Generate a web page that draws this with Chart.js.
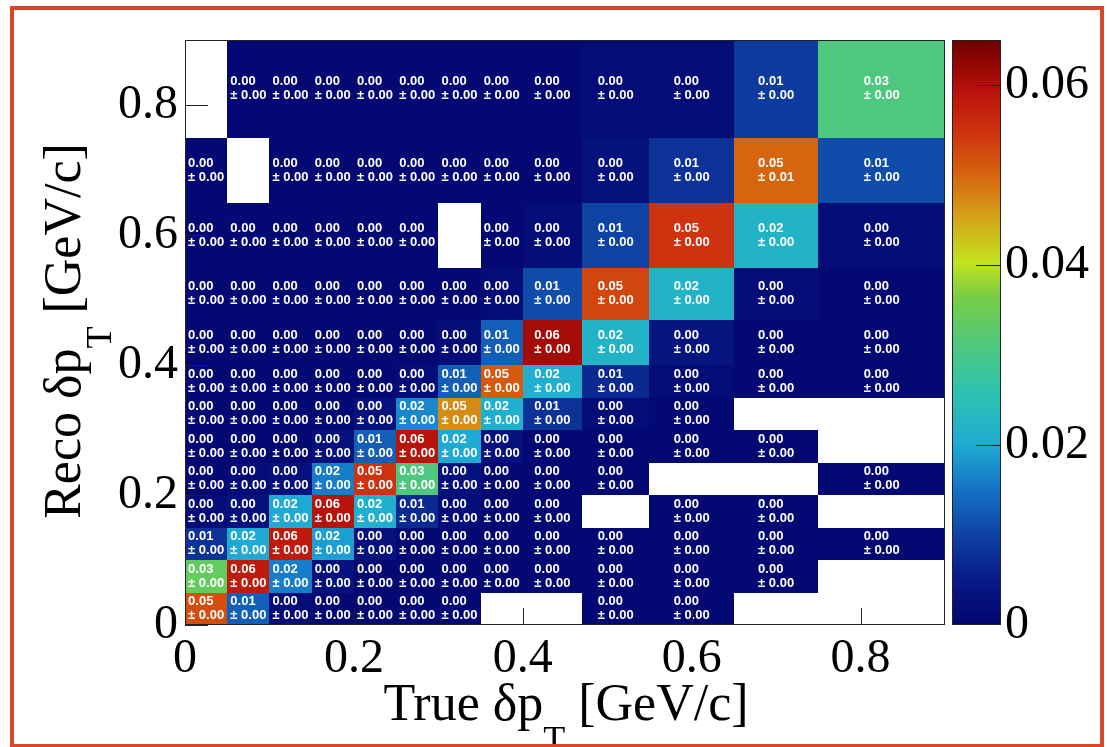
<!DOCTYPE html>
<html>
<head>
<meta charset="utf-8">
<script src="https://cdn.jsdelivr.net/npm/chart.js@4.4.0/dist/chart.umd.min.js"></script>
<style>
  html, body { margin: 0; padding: 0; background: #fff; }
  canvas { display: block; }
</style>
</head>
<body>
<canvas id="migration" width="1107" height="747"></canvas>
<script>
// Bin edges in GeV/c (same binning for true and reco dpT)
const binEdges = [0, 0.05, 0.1, 0.15, 0.2, 0.25, 0.3, 0.35, 0.4, 0.47, 0.55, 0.65, 0.75, 0.9];

// Cell content, one array per reco bin (bottom row first), one entry per true bin. null = empty bin
const reco00 = [0.052, 0.013, 0.002, 0.001, 0.001, 0.001, 0.001, null, null, 0.001, 0.001, null, null];
const reco01 = [0.034, 0.058, 0.016, 0.003, 0.001, 0.001, 0.001, 0.001, 0.001, 0.001, 0.001, 0.001, null];
const reco02 = [0.008, 0.020, 0.058, 0.019, 0.003, 0.001, 0.001, 0.001, 0.001, 0.001, 0.001, 0.001, 0.001];
const reco03 = [0.002, 0.003, 0.020, 0.059, 0.021, 0.007, 0.002, 0.001, 0.001, null, 0.001, 0.001, null];
const reco04 = [0.001, 0.002, 0.003, 0.016, 0.0548, 0.031, 0.003, 0.001, 0.001, 0.001, null, null, 0.001];
const reco05 = [0.001, 0.001, 0.001, 0.003, 0.013, 0.059, 0.020, 0.003, 0.001, 0.001, 0.001, 0.001, null];
const reco06 = [0.001, 0.001, 0.001, 0.001, 0.003, 0.017, 0.047, 0.021, 0.008, 0.002, 0.001, null, null];
const reco07 = [0.001, 0.001, 0.001, 0.001, 0.001, 0.002, 0.013, 0.051, 0.021, 0.007, 0.002, 0.001, 0.001];
const reco08 = [0.001, 0.001, 0.001, 0.001, 0.001, 0.001, 0.002, 0.013, 0.061, 0.022, 0.004, 0.001, 0.001];
const reco09 = [0.001, 0.001, 0.001, 0.001, 0.001, 0.001, 0.001, 0.002, 0.011, 0.053, 0.022, 0.002, 0.001];
const reco10 = [0.001, 0.001, 0.001, 0.001, 0.001, 0.001, null, 0.001, 0.002, 0.010, 0.0548, 0.022, 0.002];
const reco11 = [0.001, null, 0.001, 0.001, 0.001, 0.001, 0.001, 0.001, 0.001, 0.003, 0.008, 0.050, 0.011];
const reco12 = [null, 0.001, 0.001, 0.001, 0.001, 0.001, 0.001, 0.001, 0.001, 0.002, 0.002, 0.009, 0.031];

// Statistical errors, same layout
const err00 = [0.003, 0.002, 0.001, 0.001, 0.001, 0.001, 0.001, null, null, 0.001, 0.001, null, null];
const err01 = [0.002, 0.003, 0.002, 0.001, 0.001, 0.001, 0.001, 0.001, 0.001, 0.001, 0.001, 0.001, null];
const err02 = [0.001, 0.002, 0.003, 0.002, 0.001, 0.001, 0.001, 0.001, 0.001, 0.001, 0.001, 0.001, 0.001];
const err03 = [0.001, 0.001, 0.002, 0.003, 0.002, 0.001, 0.001, 0.001, 0.001, null, 0.001, 0.001, null];
const err04 = [0.001, 0.001, 0.001, 0.002, 0.003, 0.002, 0.001, 0.001, 0.001, 0.001, null, null, 0.001];
const err05 = [0.001, 0.001, 0.001, 0.001, 0.002, 0.003, 0.002, 0.001, 0.001, 0.001, 0.001, 0.001, null];
const err06 = [0.001, 0.001, 0.001, 0.001, 0.001, 0.002, 0.003, 0.002, 0.001, 0.001, 0.001, null, null];
const err07 = [0.001, 0.001, 0.001, 0.001, 0.001, 0.001, 0.002, 0.003, 0.002, 0.001, 0.001, 0.001, 0.001];
const err08 = [0.001, 0.001, 0.001, 0.001, 0.001, 0.001, 0.001, 0.002, 0.004, 0.002, 0.001, 0.001, 0.001];
const err09 = [0.001, 0.001, 0.001, 0.001, 0.001, 0.001, 0.001, 0.001, 0.002, 0.004, 0.003, 0.001, 0.001];
const err10 = [0.001, 0.001, 0.001, 0.001, 0.001, 0.001, null, 0.001, 0.001, 0.002, 0.004, 0.003, 0.001];
const err11 = [0.001, null, 0.001, 0.001, 0.001, 0.001, 0.001, 0.001, 0.001, 0.001, 0.002, 0.006, 0.002];
const err12 = [null, 0.001, 0.001, 0.001, 0.001, 0.001, 0.001, 0.001, 0.001, 0.001, 0.001, 0.002, 0.003];

const axisTicks = [0, 0.2, 0.4, 0.6, 0.8];
const zTicks = [0, 0.02, 0.04, 0.06];
const zMax = 0.065;

const recoRows = [reco00, reco01, reco02, reco03, reco04, reco05, reco06, reco07, reco08, reco09, reco10, reco11, reco12];
const errRows = [err00, err01, err02, err03, err04, err05, err06, err07, err08, err09, err10, err11, err12];

// rainbow palette (fraction of zMax -> rgb)
const palette = [
  [0.00, [2, 4, 110]],
  [0.08, [8, 26, 135]],
  [0.16, [15, 70, 165]],
  [0.24, [22, 120, 200]],
  [0.31, [30, 172, 210]],
  [0.40, [45, 195, 175]],
  [0.48, [80, 200, 125]],
  [0.56, [120, 205, 70]],
  [0.62, [195, 226, 30]],
  [0.70, [212, 160, 25]],
  [0.77, [215, 100, 15]],
  [0.85, [205, 45, 15]],
  [0.92, [180, 15, 10]],
  [1.00, [110, 0, 0]]
];

function zColor(v) {
  let t = Math.max(0, Math.min(1, v / zMax));
  for (let i = 1; i < palette.length; i++) {
    if (t <= palette[i][0]) {
      const [t0, c0] = palette[i - 1];
      const [t1, c1] = palette[i];
      const f = (t - t0) / (t1 - t0);
      const c = c0.map((a, k) => Math.round(a + (c1[k] - a) * f));
      return `rgb(${c[0]},${c[1]},${c[2]})`;
    }
  }
  return 'rgb(110,0,0)';
}

function fmtTick(v) {
  if (Math.abs(v) < 1e-9) return '0';
  return String(+v.toFixed(2));
}

// cell centres as data points (the cells themselves are painted by the plugin below)
const cellPoints = [];
recoRows.forEach((row, i) => {
  row.forEach((v, j) => {
    if (v === null) return;
    cellPoints.push({ x: (binEdges[j] + binEdges[j + 1]) / 2, y: (binEdges[i] + binEdges[i + 1]) / 2, v: v, e: errRows[i][j], i: i, j: j });
  });
});

const serif = '"Liberation Serif", "Times New Roman", serif';

const th2Plugin = {
  id: 'th2Cells',
  beforeDatasetsDraw(chart) {
    const { ctx, scales: { x, y } } = chart;
    ctx.save();
    // cells
    cellPoints.forEach(p => {
      const x0 = Math.round(x.getPixelForValue(binEdges[p.j]));
      const x1 = Math.round(x.getPixelForValue(binEdges[p.j + 1]));
      const y0 = Math.round(y.getPixelForValue(binEdges[p.i + 1]));
      const y1 = Math.round(y.getPixelForValue(binEdges[p.i]));
      ctx.fillStyle = zColor(p.v);
      ctx.fillRect(x0, y0, x1 - x0, y1 - y0);
    });
    // cell text
    ctx.font = 'bold 13px "Liberation Sans", Arial, sans-serif';
    ctx.fillStyle = '#ffffff';
    ctx.textAlign = 'left';
    ctx.textBaseline = 'middle';
    cellPoints.forEach(p => {
      const cx = x.getPixelForValue(p.x);
      const cy = y.getPixelForValue(p.y);
      const l1 = p.v.toFixed(2);
      const l2 = '\u00b1 ' + p.e.toFixed(2);
      const w = ctx.measureText(l2).width;
      const lx = cx - w / 2;
      ctx.fillText(l1, lx, cy - 7);
      ctx.fillText(l2, lx, cy + 7);
    });
    ctx.restore();
  },
  afterDraw(chart) {
    const { ctx, chartArea: a, scales: { x, y, z } } = chart;
    ctx.save();
    // frame
    ctx.strokeStyle = '#222';
    ctx.lineWidth = 1;
    ctx.strokeRect(a.left + 0.5, a.top + 0.5, a.right - a.left - 1, a.bottom - a.top - 1);
    // inward ticks
    ctx.beginPath();
    axisTicks.forEach(t => {
      const px = Math.round(x.getPixelForValue(t)) + 0.5;
      ctx.moveTo(px, a.bottom);
      ctx.lineTo(px, a.bottom - 17);
      const py = Math.round(y.getPixelForValue(t)) + 0.5;
      ctx.moveTo(a.left, py);
      ctx.lineTo(a.left + 23, py);
    });
    ctx.stroke();

    // colour bar
    const bl = a.right + 7, br = a.right + 56;
    for (let py = Math.round(z.top); py < Math.round(z.bottom); py++) {
      ctx.fillStyle = zColor(z.getValueForPixel(py + 0.5));
      ctx.fillRect(bl, py, br - bl, 1);
    }
    ctx.strokeStyle = '#222';
    ctx.strokeRect(bl + 0.5, z.top + 0.5, br - bl - 1, z.bottom - z.top - 1);
    ctx.beginPath();
    zTicks.forEach(t => {
      if (t === 0) return;
      const py = Math.round(z.getPixelForValue(t)) + 0.5;
      ctx.moveTo(br - 25, py);
      ctx.lineTo(br, py);
    });
    ctx.stroke();

    // axis titles with subscript
    ctx.fillStyle = '#000';
    ctx.textBaseline = 'alphabetic';
    ctx.textAlign = 'left';
    const drawTitle = (pre, sub, post, cx, base) => {
      ctx.font = '52px ' + serif;
      const w1 = ctx.measureText(pre).width;
      const w3 = ctx.measureText(post).width;
      ctx.font = '36px ' + serif;
      const w2 = ctx.measureText(sub).width;
      let sx = cx - (w1 + w2 + w3) / 2;
      ctx.font = '52px ' + serif;
      ctx.fillText(pre, sx, base);
      ctx.font = '36px ' + serif;
      ctx.fillText(sub, sx + w1, base + 31);
      ctx.font = '52px ' + serif;
      ctx.fillText(post, sx + w1 + w2, base);
    };
    drawTitle('True \u03b4p', 'T', ' [GeV/c]', 566, 720);
    ctx.translate(80, 331);
    ctx.rotate(-Math.PI / 2);
    drawTitle('Reco \u03b4p', 'T', ' [GeV/c]', 0, 0);
    ctx.restore();

    // slide frame
    ctx.save();
    ctx.strokeStyle = '#d9472b';
    ctx.lineWidth = 4;
    ctx.strokeRect(12, 8, 1090, 738);
    ctx.restore();
  }
};

const tickFont = { family: serif, size: 48 };

// keep the axis boxes at fixed sizes and drop the label overhang padding
function fixBox(w, h) {
  return s => {
    if (w) s.width = w;
    if (h) s.height = h;
    s.paddingTop = 0;
    s.paddingBottom = 0;
    s.paddingLeft = 0;
    s.paddingRight = 0;
  };
}

new Chart(document.getElementById('migration'), {
  type: 'scatter',
  data: {
    datasets: [{
      label: 'migration',
      data: cellPoints,
      pointRadius: 0,
      pointHoverRadius: 0
    }]
  },
  plugins: [th2Plugin],
  options: {
    responsive: false,
    animation: false,
    devicePixelRatio: 1,
    events: [],
    layout: { padding: { top: 40, left: 0, right: 0, bottom: 0 } },
    plugins: {
      legend: { display: false },
      tooltip: { enabled: false }
    },
    scales: {
      x: {
        type: 'linear',
        position: 'bottom',
        min: 0,
        max: 0.9,
        grid: { display: false, drawTicks: false },
        border: { display: false },
        ticks: {
          stepSize: 0.2,
          includeBounds: false,
          autoSkip: false,
          maxRotation: 0,
          padding: 6,
          color: '#000',
          font: tickFont,
          callback: v => fmtTick(v)
        },
        afterFit: fixBox(0, 122)
      },
      y: {
        type: 'linear',
        position: 'left',
        min: 0,
        max: 0.9,
        grid: { display: false, drawTicks: false },
        border: { display: false },
        ticks: {
          stepSize: 0.2,
          includeBounds: false,
          autoSkip: false,
          padding: 7,
          color: '#000',
          font: tickFont,
          callback: v => fmtTick(v)
        },
        afterFit: fixBox(185, 0)
      },
      z: {
        type: 'linear',
        position: 'right',
        min: 0,
        max: zMax,
        grid: { display: false, drawTicks: false },
        border: { display: false },
        ticks: {
          stepSize: 0.02,
          includeBounds: false,
          autoSkip: false,
          padding: 60,
          color: '#000',
          font: tickFont,
          callback: v => fmtTick(v)
        },
        afterFit: fixBox(162, 0)
      }
    }
  }
});
</script>
</body>
</html>
